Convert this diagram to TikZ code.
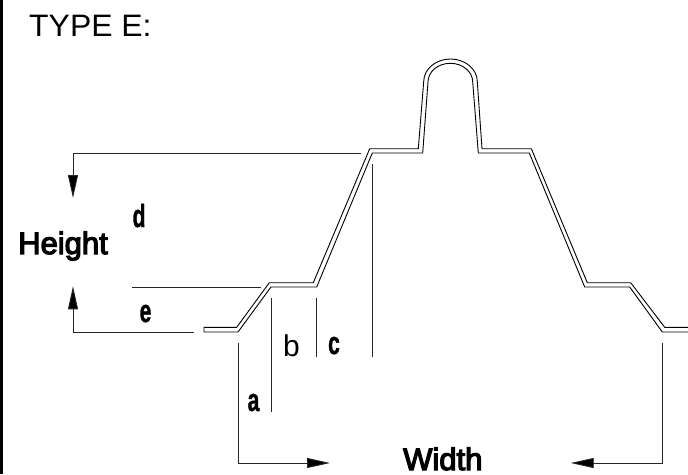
\documentclass[tikz,border=0pt]{standalone}
\usepackage{fontspec}
\setmainfont{Liberation Sans}
\newfontfamily\heavyfont[FakeBold=4]{Liberation Sans}
\newfontfamily\narrowfont[FakeBold=1.5]{Liberation Sans Bold}
\usetikzlibrary{arrows.meta}

\begin{document}
\begin{tikzpicture}[x=1pt, y=-1pt,
    profile/.style={line width=0.9pt, black, line join=miter},
    dimline/.style={line width=0.9pt, black!85},
    dimarrow/.style={dimline, -{Triangle[length=23pt,width=10pt,fill=black]}},
    tag/.style={inner sep=0pt, anchor=base west},
    biglabel/.style={tag, font=\fontsize{31}{31}\selectfont\heavyfont},
    narrowlabel/.style={tag, font=\fontsize{32}{32}\selectfont\narrowfont, xscale=0.66}]
    \useasboundingbox (0,0) rectangle (688,474);
    \draw[line width=2.7pt, black] (1.35,0) -- (1.35,474);
    \node [tag, font=\fontsize{31}{31}\selectfont, xscale=1.03] (title) at (29,36) {TYPE E:};
    \node [biglabel] (height) at (18,254) {Height};
    \node [biglabel] (width) at (403,470) {Width};
    \node [narrowlabel] (a) at (247.5,411) {a};
    \node [tag, font=\fontsize{30}{30}\selectfont] (b) at (283,356) {b};
    \node [narrowlabel] (c) at (328,354) {c};
    \node [narrowlabel] (d) at (132.5,227) {d};
    \node [narrowlabel] (e) at (139.5,322) {e};
    % sheet outline, upper then lower face
    \draw[profile] (688,327.3) -- (664.7,327.3) -- (630.7,282.7) -- (587.3,282.7) -- (531.3,148.7)
        -- (482,148.7) -- (477.3,81.7) arc[start angle=360, end angle=180, x radius=26.8, y radius=22.7]
        -- (418.3,148.7) -- (369.7,148.7) -- (313.3,282.7) -- (269.3,282.7) -- (236.7,327.3)
        -- (204,327.3) -- (204,332) -- (238,332) -- (271,287) -- (316.7,287) -- (372.3,153)
        -- (422.7,153) -- (428,82) arc[start angle=180, end angle=360, x radius=22.35, y radius=18.7]
        -- (478.3,153) -- (529.3,153) -- (584.7,287) -- (629.7,287) -- (662.3,332) -- (688,332);
    \coordinate (topstart) at (361,153);
    \coordinate (topcorner) at (73,153);
    \coordinate (toptip) at (73,198);
    \coordinate (lowstart) at (193.7,332);
    \coordinate (lowcorner) at (73,332);
    \coordinate (lowtip) at (73,286.3);
    \coordinate (leftstart) at (238,343);
    \coordinate (leftcorner) at (238,463);
    \coordinate (lefttip) at (330,463);
    \coordinate (rightstart) at (662.3,343);
    \coordinate (rightcorner) at (662.3,463);
    \coordinate (righttip) at (570.7,463);
    \draw[dimarrow] (topstart) -- (topcorner) -- (toptip);
    \draw[dimarrow] (lowstart) -- (lowcorner) -- (lowtip);
    \draw[dimarrow] (leftstart) -- (leftcorner) -- (lefttip);
    \draw[dimarrow] (rightstart) -- (rightcorner) -- (righttip);
    \draw[dimline] (132.3,287) -- (260.7,287);
    \draw[dimline] (271.3,298) -- (271.3,412.3);
    \draw[dimline] (316.3,298) -- (316.3,357);
    \draw[dimline] (372,164) -- (372,357);
\end{tikzpicture}
\end{document}
